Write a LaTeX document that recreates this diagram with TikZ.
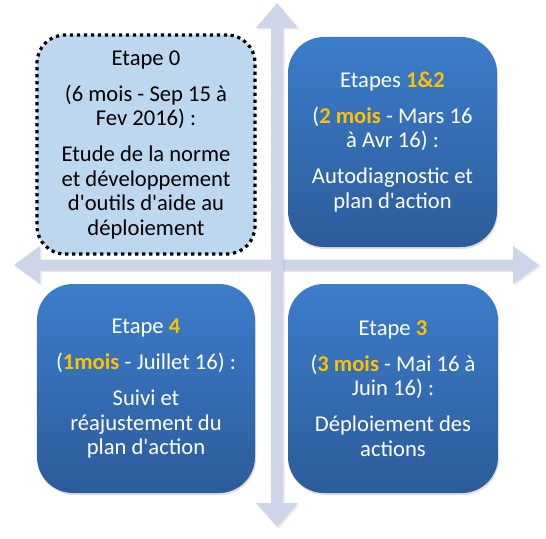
\documentclass[tikz,border=0pt]{standalone}
\usepackage{fontspec}
\setmainfont{Carlito}
\usetikzlibrary{shadows}
\definecolor{arrowc}{RGB}{207,213,232}
\definecolor{boxtop}{RGB}{60,125,203}
\definecolor{boxbot}{RGB}{44,92,154}
\definecolor{lightbox}{RGB}{189,215,238}
\definecolor{hlc}{RGB}{255,192,0}
\newcommand\sq{\XeTeXglyph\XeTeXcharglyph"0027\relax}
\newcommand\hl[1]{\textbf{\color{hlc}#1}}
\newcommand\gap{\\[11.5bp]}
\tikzset{
  axisarrow/.style={fill=arrowc, draw=none, drop shadow={opacity=0.18, shadow xshift=1.5bp, shadow yshift=-1.5bp}},
  darkbox/.style={rounded corners=36bp, top color=boxtop, bottom color=boxbot, draw=none,
    text=white, align=center, inner sep=0pt,
    font=\fontsize{22.6bp}{24.5bp}\selectfont,
    drop shadow={opacity=0.25, shadow xshift=1bp, shadow yshift=-2bp}},
  lightboxs/.style={rounded corners=28bp, fill=lightbox, draw=black, line width=3.2bp,
    dash pattern=on 3.2bp off 3.8bp, text=black, align=center, inner sep=0pt,
    font=\fontsize{22.6bp}{24.5bp}\selectfont}
}
\begin{document}
\begin{tikzpicture}[x=1bp,y=-1bp]
\useasboundingbox (0,0) rectangle (546,539);
% axes
\path[axisarrow] (40,259.5) -- (40,246) -- (14,265) -- (40,284) -- (40,270.5) -- (513,270.5) -- (513,284) -- (539,265) -- (513,246) -- (513,259.5) -- cycle;
\path[axisarrow] (271,28) -- (256,28) -- (277,3) -- (298,28) -- (283,28) -- (283,503) -- (298,503) -- (277,527) -- (256,503) -- (271,503) -- cycle;
% boxes
\node[lightboxs, minimum width=218bp, minimum height=219bp] (e0) at (146,144.5)
  {Etape 0\gap (6 mois - Sep 15 à\\ Fev 2016) :\gap Etude de la norme\\ et développement\\ d\sq outils d\sq aide au\\ déploiement};
\node[darkbox, minimum width=209bp, minimum height=210bp] (e12) at (392.5,142)
  {Etapes \hl{1\&2}\gap (\hl{2 mois} - Mars 16\\ à Avr 16) :\gap Autodiagnostic et\\ plan d\sq action};
\node[darkbox, minimum width=218bp, minimum height=209bp] (e4) at (146,388.5)
  {Etape \hl{4}\gap (\hl{1mois} - Juillet 16) :\gap Suivi et\\ réajustement du\\ plan d\sq action};
\node[darkbox, minimum width=210bp, minimum height=209bp] (e3) at (393,388.5)
  {Etape \hl{3}\gap (\hl{3 mois} - Mai 16 à\\ Juin 16) :\gap Déploiement des\\ actions};
\end{tikzpicture}
\end{document}
